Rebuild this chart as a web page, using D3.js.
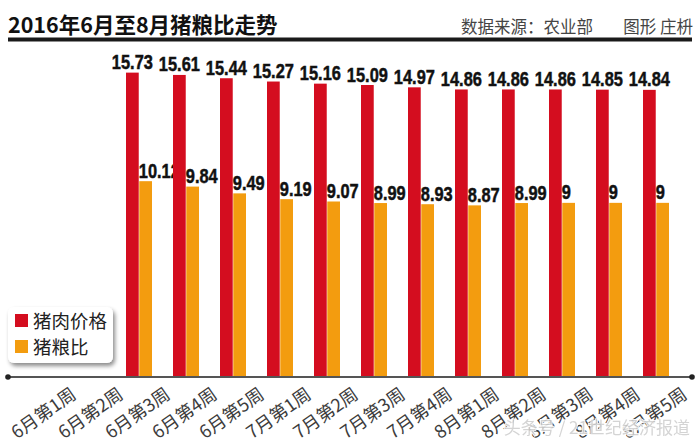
<!DOCTYPE html>
<html><head><meta charset="utf-8">
<script src="https://cdn.jsdelivr.net/npm/d3@7"></script>
<style>
html,body{margin:0;padding:0;background:#fff;}
svg{display:block;}
</style></head>
<body>
<svg id="chart" width="700" height="443"></svg>
<script>
const categories = ["6月第1周","6月第2周","6月第3周","6月第4周","6月第5周","7月第1周","7月第2周","7月第3周","7月第4周","8月第1周","8月第2周","8月第3周","8月第4周","8月第5周"];
const porkPrice = [null,null,15.73,15.61,15.44,15.27,15.16,15.09,14.97,14.86,14.86,14.86,14.85,14.84];
const pigGrainRatio = [null,null,10.12,9.84,9.49,9.19,9.07,8.99,8.93,8.87,8.99,9,9,9];
const seriesNames = ["猪肉价格","猪粮比"];

const W = 700, H = 443;
const RED = "#d40d1f", ORANGE = "#f39c0f";
const cjk = "'Noto Sans CJK SC','Noto Sans',sans-serif";
const num = "'Liberation Sans',Arial,sans-serif";
const svg = d3.select("#chart");

const baseY = 377;
const x = d3.scaleBand().domain(categories).range([21.5, 679.5]);
const y = d3.scaleLinear().domain([0, 20]).range([baseY, baseY - 387]);
const sub = d3.scaleBand().domain(seriesNames).range([-13, 13]).paddingInner(0.04);

// title
svg.append("text").attr("x", 8).attr("y", 33)
  .attr("font-family", cjk).attr("font-weight", 700).attr("font-size", 21.5)
  .attr("fill", "#111").text("2016年6月至8月猪粮比走势");
svg.append("text").attr("x", 593).attr("y", 33).attr("text-anchor", "end")
  .attr("font-family", cjk).attr("font-size", 16.5).attr("fill", "#444").text("数据来源：农业部");
svg.append("text").attr("x", 693).attr("y", 33).attr("text-anchor", "end")
  .attr("font-family", cjk).attr("font-size", 16.5).attr("fill", "#444").text("图形 庄枡");
svg.append("rect").attr("x", 8).attr("y", 37.5).attr("width", 684).attr("height", 4).attr("fill", "#1a1a1a");

// bars
const groups = svg.append("g");
const data = categories.map((c, i) => ({c, v: [porkPrice[i], pigGrainRatio[i]]})).filter(d => d.v[0] != null);
const colors = [RED, ORANGE];
data.forEach(d => {
  const cx = x(d.c) + x.bandwidth() / 2;
  d.v.forEach((v, k) => {
    const bx = cx + sub(seriesNames[k]);
    groups.append("rect").attr("x", bx).attr("y", y(v))
      .attr("width", sub.bandwidth()).attr("height", baseY - y(v)).attr("fill", colors[k]);
    const tx = k === 0 ? bx + sub.bandwidth() / 2 : bx - 0.5;
    groups.append("text")
      .attr("transform", `translate(${tx},${y(v) - 3.5}) scale(0.8,1)`)
      .attr("text-anchor", k === 0 ? "middle" : "start")
      .attr("font-family", num).attr("font-weight", 700).attr("font-size", 20.5)
      .attr("fill", "#111").attr("stroke", "#111").attr("stroke-width", 0.5)
      .text(String(v));
  });
});

// axis
const axis = svg.append("g");
axis.append("line").attr("x1", 8).attr("x2", 692).attr("y1", baseY).attr("y2", baseY)
  .attr("stroke", "#555").attr("stroke-width", 2);
axis.append("circle").attr("cx", 8).attr("cy", baseY).attr("r", 2.8).attr("fill", "#222");
axis.append("circle").attr("cx", 692).attr("cy", baseY).attr("r", 2.8).attr("fill", "#222");
categories.forEach(c => {
  const cx = x(c) + x.bandwidth() / 2;
  axis.append("text")
    .attr("transform", `translate(${cx + 29},${baseY + 15}) rotate(-35)`)
    .attr("text-anchor", "end").attr("dy", "0.35em")
    .attr("font-family", cjk).attr("font-size", 18).attr("fill", "#3c3c3c").text(c);
});

// legend
const defs = svg.append("defs");
const f = defs.append("filter").attr("id", "sh").attr("x", "-20%").attr("y", "-20%").attr("width", "150%").attr("height", "160%");
f.append("feDropShadow").attr("dx", 2).attr("dy", 3).attr("stdDeviation", 2).attr("flood-color", "#000").attr("flood-opacity", 0.45);
const lg = svg.append("g");
lg.append("rect").attr("x", 8).attr("y", 307).attr("width", 105).attr("height", 56).attr("rx", 6)
  .attr("fill", "#fff").attr("filter", "url(#sh)");
seriesNames.forEach((n, k) => {
  lg.append("rect").attr("x", 15).attr("y", 314 + k * 26).attr("width", 13).attr("height", 13).attr("fill", colors[k]);
  lg.append("text").attr("x", 33).attr("y", 328 + k * 26)
    .attr("font-family", cjk).attr("font-size", 18.5).attr("fill", "#222").text(n);
});

// watermark
svg.append("text").attr("x", 690).attr("y", 434).attr("text-anchor", "end")
  .attr("font-family", cjk).attr("font-size", 17).attr("fill", "#d0d0d0")
  .attr("stroke", "#fff").attr("stroke-width", 2).attr("paint-order", "stroke")
  .attr("opacity", 0.9).text("头条号 / 21世纪经济报道");
</script>
</body></html>
